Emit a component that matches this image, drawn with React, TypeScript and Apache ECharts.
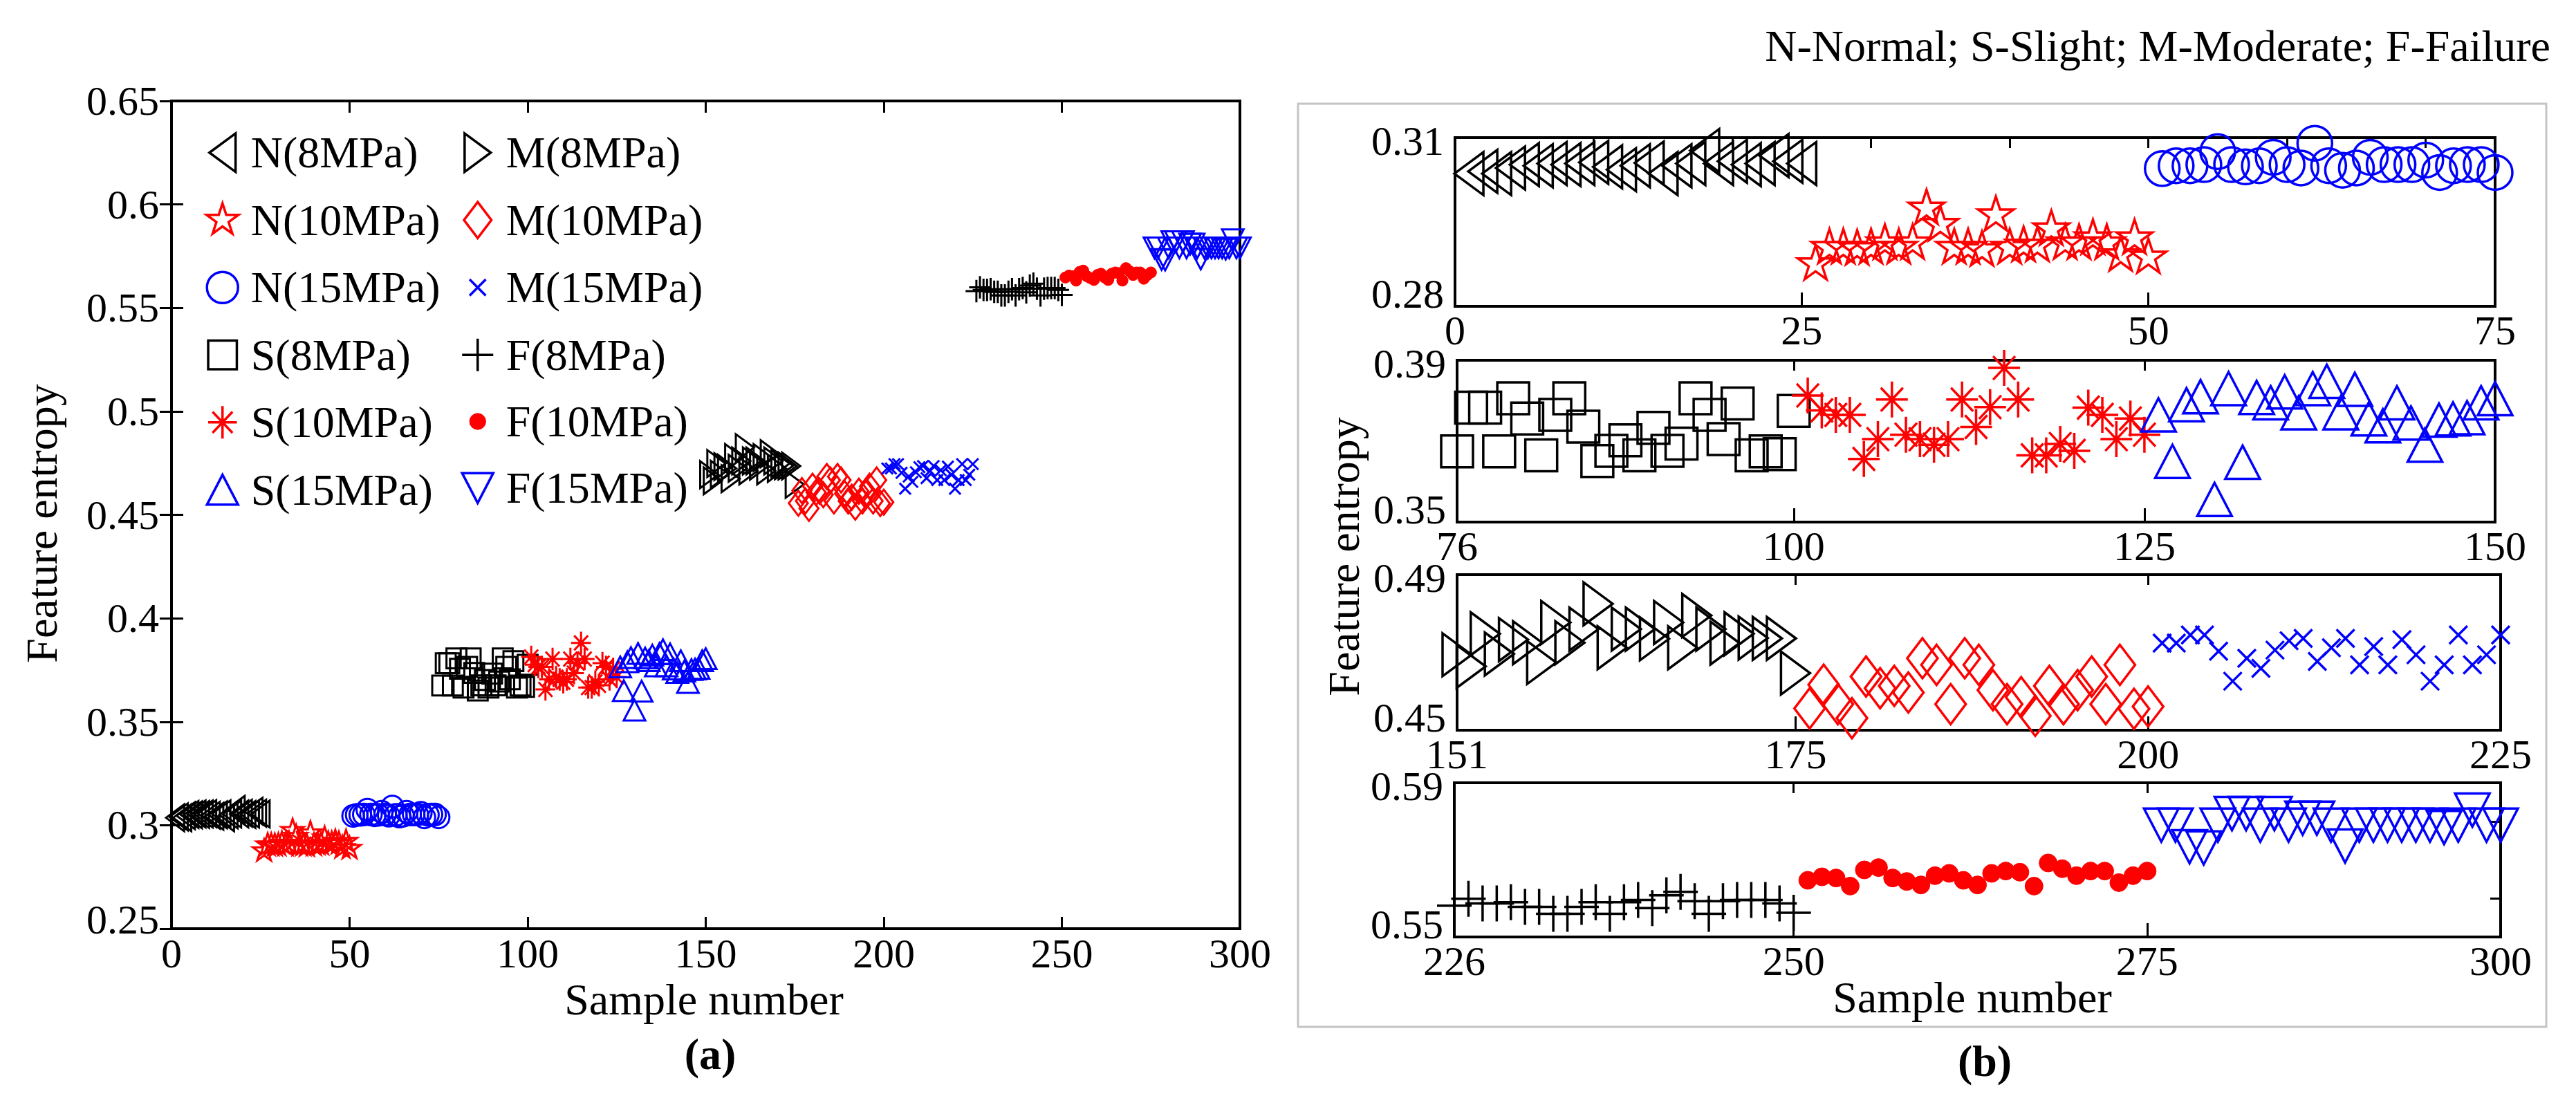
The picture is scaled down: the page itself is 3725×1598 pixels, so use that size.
import React, { useEffect, useRef } from "react";
import * as echarts from "echarts";

const FONT = "'Liberation Serif', 'Times New Roman', serif";

// feature entropy per group, 25 samples each
const n8 = [0.3036, 0.304, 0.3036, 0.3046, 0.3052, 0.305, 0.3054, 0.3052, 0.3054, 0.3056, 0.3048, 0.3043, 0.305, 0.3055, 0.3036, 0.305, 0.3054, 0.3077, 0.3054, 0.3058, 0.3052, 0.3054, 0.3068, 0.3058, 0.3054];
const n10 = [0.2875, 0.2904, 0.2904, 0.2902, 0.2904, 0.2912, 0.2904, 0.2912, 0.2974, 0.2945, 0.2904, 0.2904, 0.29, 0.2962, 0.2904, 0.2908, 0.2908, 0.2937, 0.2912, 0.2912, 0.2921, 0.2912, 0.2891, 0.2921, 0.2887];
const n15 = [0.3045, 0.305, 0.305, 0.3052, 0.3075, 0.3052, 0.3048, 0.305, 0.3065, 0.3052, 0.3046, 0.309, 0.305, 0.3042, 0.3046, 0.3065, 0.3052, 0.3052, 0.3052, 0.306, 0.3038, 0.305, 0.3052, 0.3052, 0.3038];
const s8 = [0.3675, 0.3783, 0.3783, 0.3675, 0.3806, 0.3756, 0.3665, 0.3765, 0.3806, 0.3736, 0.3651, 0.3676, 0.3702, 0.3665, 0.3733, 0.3676, 0.3694, 0.3806, 0.3765, 0.3705, 0.3793, 0.3665, 0.3675, 0.3668, 0.3775];
const s10 = [0.3813, 0.3776, 0.3765, 0.3765, 0.3656, 0.3705, 0.3803, 0.3716, 0.3705, 0.3691, 0.3705, 0.3803, 0.3735, 0.3784, 0.3881, 0.3803, 0.3665, 0.3665, 0.3693, 0.3676, 0.3783, 0.3765, 0.3705, 0.3756, 0.3716];
const s15 = [0.3765, 0.365, 0.379, 0.381, 0.3556, 0.383, 0.3648, 0.3808, 0.3795, 0.3822, 0.377, 0.383, 0.3848, 0.377, 0.3828, 0.3755, 0.3738, 0.3795, 0.3745, 0.369, 0.3752, 0.3755, 0.3758, 0.3795, 0.3805];
const m8 = [0.4694, 0.4664, 0.4748, 0.4696, 0.4733, 0.4725, 0.4674, 0.4777, 0.4725, 0.476, 0.4825, 0.4712, 0.476, 0.476, 0.4735, 0.4777, 0.4712, 0.4795, 0.476, 0.4724, 0.4748, 0.4737, 0.4736, 0.4736, 0.4647];
const m10 = [0.4556, 0.4617, 0.4567, 0.4531, 0.4638, 0.4608, 0.4614, 0.4597, 0.4685, 0.4668, 0.4567, 0.4685, 0.4668, 0.4603, 0.4567, 0.4585, 0.4537, 0.4614, 0.4567, 0.4603, 0.4638, 0.4567, 0.4668, 0.4555, 0.4561];
const m15 = [0.4724, 0.4724, 0.4745, 0.4745, 0.4703, 0.4626, 0.4685, 0.4659, 0.4706, 0.473, 0.4736, 0.4677, 0.4712, 0.4736, 0.4668, 0.4715, 0.4668, 0.4733, 0.4694, 0.4626, 0.4668, 0.4745, 0.4668, 0.4694, 0.4745];
const f8 = [0.5581, 0.5599, 0.5587, 0.5587, 0.559, 0.5578, 0.5578, 0.556, 0.556, 0.5578, 0.559, 0.556, 0.559, 0.5596, 0.5575, 0.5608, 0.5617, 0.5593, 0.556, 0.5593, 0.5596, 0.5596, 0.5596, 0.5587, 0.5563];
const f10 = [0.5647, 0.5656, 0.5653, 0.5632, 0.5674, 0.568, 0.5653, 0.5644, 0.5635, 0.5659, 0.5665, 0.5647, 0.5635, 0.5665, 0.5671, 0.5668, 0.5632, 0.5692, 0.5677, 0.5659, 0.5671, 0.5671, 0.5641, 0.5659, 0.5671];
const f15 = [0.579, 0.579, 0.5734, 0.5731, 0.579, 0.582, 0.582, 0.579, 0.582, 0.579, 0.5808, 0.5808, 0.579, 0.5736, 0.579, 0.579, 0.579, 0.579, 0.579, 0.579, 0.5784, 0.579, 0.5829, 0.579, 0.579];

const groupValues = [n8, n10, n15, s8, s10, s15, m8, m10, m15, f8, f10, f15];
const groupStarts = [1, 26, 51, 76, 101, 126, 151, 176, 201, 226, 251, 276];
const groupNames = [
  "N(8MPa)", "N(10MPa)", "N(15MPa)",
  "S(8MPa)", "S(10MPa)", "S(15MPa)",
  "M(8MPa)", "M(10MPa)", "M(15MPa)",
  "F(8MPa)", "F(10MPa)", "F(15MPa)",
];

// panel (b) axes
const subXMin = [0, 76, 151, 226];
const subXMax = [75, 150, 225, 300];
const subXLabels = [[0, 25, 50, 75], [76, 100, 125, 150], [151, 175, 200, 225], [226, 250, 275, 300]];
const subXTicks = [[25, 50], [100, 125], [175, 200], [250, 275]];
const sub1TopTicks = [10, 20, 30, 40, 50, 60, 70];
const subYMin = [0.28, 0.35, 0.45, 0.55];
const subYMax = [0.31, 0.39, 0.49, 0.59];
const sub4RightTicks = [0.56, 0.58];

// marker outlines, drawn in an 80x80 frame (padding moves keep the frame)
const PAD = "M-40,-40 M40,40 ";
const MARKS: Record<string, string> = {
  triL: "M-21,0 L21,-31 L21,31 Z",
  triR: "M21,0 L-21,-31 L-21,31 Z",
  triU: "M0,-24 L25,24 L-25,24 Z",
  triD: "M0,24 L25,-24 L-25,-24 Z",
  circle: "M-25,0 A25,25 0 1,0 25,0 A25,25 0 1,0 -25,0 Z",
  square: "M-23,-23 L23,-23 L23,23 L-23,23 Z",
  diamond: "M0,-29 L22,0 L0,29 L-22,0 Z",
  star: "M0,-27 L6.05,-8.33 L25.68,-8.34 L9.8,3.18 L15.87,21.84 L0,10.3 L-15.87,21.84 L-9.8,3.18 L-25.68,-8.34 L-6.05,-8.33 Z",
  asterisk: "M0,-26 L0,26 M-23,0 L23,0 M-16,-17 L16,17 M-16,17 L16,-17",
  plus: "M0,-26 L0,26 M-25,0 L25,0",
  cross: "M-13,-13 L13,13 M-13,13 L13,-13",
  dot: "M-13,0 A13,13 0 1,0 13,0 A13,13 0 1,0 -13,0 Z",
};
const groupMarks = ["triL", "star", "circle", "square", "asterisk", "triU", "triR", "diamond", "cross", "plus", "dot", "triD"];
const pressureColors = ["#000000", "#ff0000", "#0000ff"];

const sym = (gi: number) => "path://" + PAD + MARKS[groupMarks[gi]];
const colorOf = (gi: number) => pressureColors[gi % 3];
const filled = (gi: number) => groupMarks[gi] === "dot";

const TICK_FS = 60;
const labelStyle = { color: "#000", fontFamily: FONT, fontSize: TICK_FS };
const tickLine = { color: "#000", width: 3 };
const num = (v: number) => String(+Number(v).toFixed(2));
const richText = { color: "#000", fontFamily: FONT, fontSize: TICK_FS };
// end labels sit a little inside the axis range, as in the source figure
const yRich = {
  lo: { ...richText, padding: [0, 0, 36, 0] },
  hi: { ...richText, padding: [10, 0, 0, 0] },
  n: { ...richText },
};
const yFormatter = (lo: number, hi: number) => (v: number) => {
  const s = num(v);
  if (Math.abs(v - lo) < 1e-6) return `{lo|${s}}`;
  if (Math.abs(v - hi) < 1e-6) return `{hi|${s}}`;
  return `{n|${s}}`;
};

const App = () => {
  const chartRef = useRef<HTMLDivElement>(null);

  useEffect(() => {
    if (!chartRef.current) return;
    document.body.style.margin = "0";
    const chart = echarts.init(chartRef.current, undefined, { renderer: "svg" });

    const grids: any[] = [
      { left: 248, top: 146, width: 1545, height: 1197 },
      { left: 2104, top: 199, width: 1504, height: 244 },
      { left: 2107, top: 521, width: 1501, height: 234 },
      { left: 2107, top: 831, width: 1509, height: 225 },
      { left: 2103, top: 1132, width: 1513, height: 223 },
    ].map((g) => ({ ...g, show: true, borderColor: "#000", borderWidth: 4, containLabel: false }));

    const xAxis: any[] = [
      {
        gridIndex: 0, type: "value", min: 0, max: 300, interval: 50, position: "bottom",
        axisLine: { show: false }, splitLine: { show: false },
        axisTick: { inside: true, length: 17, lineStyle: tickLine },
        axisLabel: { ...labelStyle, margin: 6 },
      },
      {
        gridIndex: 0, type: "value", min: 0, max: 300, interval: 50, position: "top",
        axisLine: { show: false }, splitLine: { show: false },
        axisTick: { inside: true, length: 17, lineStyle: tickLine },
        axisLabel: { show: false },
      },
    ];
    const yAxis: any[] = [
      {
        gridIndex: 0, type: "value", min: 0.25, max: 0.65, interval: 0.05, position: "left",
        axisLine: { show: false }, splitLine: { show: false },
        axisTick: { inside: true, length: 17, lineStyle: tickLine },
        axisLabel: {
          ...labelStyle, margin: 18, formatter: yFormatter(0.25, 9),
          rich: { lo: { ...richText, padding: [0, 0, 26, 0] }, n: { ...richText }, hi: { ...richText } },
        },
      },
      {
        gridIndex: 0, type: "value", min: 0.25, max: 0.65, interval: 0.05, position: "right",
        axisLine: { show: false }, splitLine: { show: false },
        axisTick: { inside: true, length: 17, lineStyle: tickLine },
        axisLabel: { show: false },
      },
    ];

    for (let k = 0; k < 4; k++) {
      xAxis.push({
        gridIndex: k + 1, type: "value", min: subXMin[k], max: subXMax[k], position: "bottom",
        axisLine: { show: false }, splitLine: { show: false },
        axisTick: { inside: true, length: 20, lineStyle: tickLine, customValues: subXTicks[k] },
        axisLabel: { ...labelStyle, margin: 5, customValues: subXLabels[k] },
      });
      xAxis.push({
        gridIndex: k + 1, type: "value", min: subXMin[k], max: subXMax[k], position: "top",
        axisLine: { show: false }, splitLine: { show: false },
        axisTick: { inside: true, length: 15, lineStyle: tickLine, customValues: k === 0 ? sub1TopTicks : subXTicks[k] },
        axisLabel: { show: false },
      });
      yAxis.push({
        gridIndex: k + 1, type: "value", min: subYMin[k], max: subYMax[k], position: "left",
        axisLine: { show: false }, splitLine: { show: false },
        axisTick: { show: false },
        axisLabel: {
          ...labelStyle, margin: 16, customValues: [subYMin[k], subYMax[k]],
          formatter: yFormatter(subYMin[k], subYMax[k]), rich: yRich,
        },
      });
      yAxis.push({
        gridIndex: k + 1, type: "value", min: subYMin[k], max: subYMax[k], position: "right",
        axisLine: { show: false }, splitLine: { show: false },
        axisTick: { show: k === 3, inside: true, length: 15, lineStyle: tickLine, customValues: sub4RightTicks },
        axisLabel: { show: false },
      });
    }

    const scatter = (gi: number, axisIndex: number, size: number, lw: number) => ({
      type: "scatter",
      name: groupNames[gi],
      xAxisIndex: axisIndex,
      yAxisIndex: axisIndex,
      data: groupValues[gi].map((v, i) => [groupStarts[gi] + i, v]),
      symbol: sym(gi),
      symbolSize: size,
      clip: false,
      silent: true,
      emphasis: { disabled: true },
      itemStyle: {
        color: filled(gi) ? colorOf(gi) : "rgba(0,0,0,0)",
        borderColor: colorOf(gi),
        borderWidth: filled(gi) ? 1 : lw,
        opacity: 1,
      },
    });

    const series: any[] = [];
    groupNames.forEach((_, gi) => series.push(scatter(gi, 0, 50, 3)));
    groupNames.forEach((_, gi) => series.push(scatter(gi, 2 + 2 * Math.floor(gi / 3), 80, 3.5)));

    const legendItem = (gi: number) => ({
      name: groupNames[gi],
      icon: sym(gi),
      itemStyle: {
        color: filled(gi) ? colorOf(gi) : "rgba(0,0,0,0)",
        borderColor: colorOf(gi),
        borderWidth: filled(gi) ? 1 : 3.5,
      },
    });
    const legendBase = {
      orient: "vertical",
      top: 178,
      itemWidth: 72,
      itemHeight: 72,
      itemGap: 22,
      selectedMode: false,
      textStyle: { color: "#000", fontFamily: FONT, fontSize: 64, lineHeight: 64 },
    };

    const text = (t: string, x: number, y: number, extra: any = {}) => ({
      type: "text",
      x,
      y,
      rotation: extra.rotation || 0,
      style: {
        text: t,
        font: `${extra.bold ? "bold " : ""}64px ${FONT}`,
        fill: "#000",
        textAlign: extra.align || "center",
        textVerticalAlign: "middle",
      },
    });

    const option: any = {
      animation: false,
      backgroundColor: "#ffffff",
      grid: grids,
      xAxis,
      yAxis,
      series,
      legend: [
        { ...legendBase, left: 279, data: [0, 1, 2, 3, 4, 5].map(legendItem) },
        { ...legendBase, left: 648, data: [6, 7, 8, 9, 10, 11].map(legendItem) },
      ],
      graphic: [
        {
          type: "rect",
          z: -10,
          shape: { x: 1877, y: 150, width: 1805, height: 1335 },
          style: { fill: "none", stroke: "#c4c4c4", lineWidth: 3 },
        },
        text("Feature entropy", 60, 757, { rotation: Math.PI / 2 }),
        text("Sample number", 1018, 1445),
        text("(a)", 1027, 1524, { bold: true }),
        text("Feature entropy", 1943, 805, { rotation: Math.PI / 2 }),
        text("Sample number", 2852, 1442),
        text("(b)", 2870, 1534, { bold: true }),
        text("N-Normal; S-Slight; M-Moderate; F-Failure", 3688, 66, { align: "right" }),
      ],
    };

    chart.setOption(option);

    return () => {
      chart.dispose();
    };
  }, []);

  return <div ref={chartRef} style={{ width: 3725, height: 1598 }} />;
};

export default App;
